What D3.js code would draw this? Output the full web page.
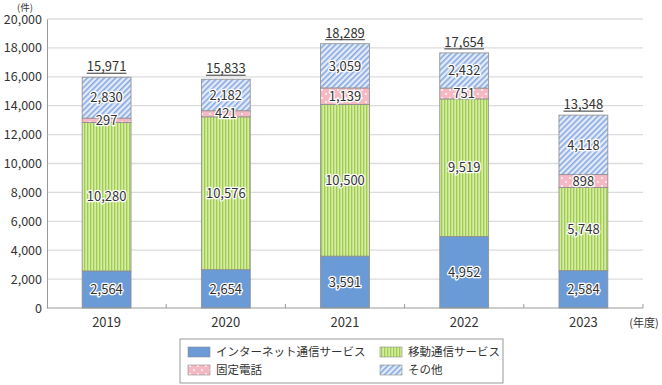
<!DOCTYPE html>
<html>
<head>
<meta charset="utf-8">
<script src="https://cdn.jsdelivr.net/npm/d3@7"></script>
<style>
  body { margin: 0; background: #fff; }
  text { font-family: "Noto Sans CJK JP", "Noto Sans", sans-serif; fill: #333; }
</style>
</head>
<body>
<div id="holder"></div>
<script>
const w = 662;
const h = 385;

// DATA
const years = ["2019", "2020", "2021", "2022", "2023"];
const internet = [2564, 2654, 3591, 4952, 2584];
const mobile = [10280, 10576, 10500, 9519, 5748];
const fixed = [297, 421, 1139, 751, 898];
const other = [2830, 2182, 3059, 2432, 4118];
const seriesNames = ["インターネット通信サービス", "移動通信サービス", "固定電話", "その他"];
const yTicks = [0, 2000, 4000, 6000, 8000, 10000, 12000, 14000, 16000, 18000, 20000];

const plotLeft = 47, plotRight = 643, plotTop = 19, plotBottom = 308;

const svg = d3.select("#holder")
    .append("svg")
    .attr("width", w)
    .attr("height", h)

// PATTERNS
const defs = svg.append("defs")

let pMobile = defs.append("pattern")
    .attr("id", "pMobile").attr("patternUnits", "userSpaceOnUse")
    .attr("width", 3).attr("height", 3)
pMobile.append("rect").attr("width", 3).attr("height", 3).attr("fill", "#d6eba3")
pMobile.append("rect").attr("width", 1.3).attr("height", 3).attr("fill", "#9fcd52")

let pFixed = defs.append("pattern")
    .attr("id", "pFixed").attr("patternUnits", "userSpaceOnUse")
    .attr("width", 8).attr("height", 8)
pFixed.append("rect").attr("width", 8).attr("height", 8).attr("fill", "#f6b9c3")
pFixed.append("circle").attr("cx", 2).attr("cy", 2).attr("r", 0.9).attr("fill", "#fff")
pFixed.append("circle").attr("cx", 6).attr("cy", 6).attr("r", 0.9).attr("fill", "#fff")

let pOther = defs.append("pattern")
    .attr("id", "pOther").attr("patternUnits", "userSpaceOnUse")
    .attr("width", 4).attr("height", 4)
    .attr("patternTransform", "rotate(45)")
pOther.append("rect").attr("width", 4).attr("height", 4).attr("fill", "#e3ebf8")
pOther.append("rect").attr("width", 1.6).attr("height", 4).attr("fill", "#86a8e2")

const fills = ["#6b9bd6", "url(#pMobile)", "url(#pFixed)", "url(#pOther)"];

// SCALES
let xScale = d3.scaleBand()
    .domain(years)
    .range([plotLeft, plotRight])
    .paddingInner(0.59)
    .paddingOuter(0.295)

let xBand = d3.scaleBand().domain(years).range([plotLeft, plotRight])

let yScale = d3.scaleLinear()
    .domain([0, 20000])
    .range([plotBottom, plotTop])

// GRID
svg.append("g")
    .selectAll("line")
    .data(yTicks.slice(1))
    .enter()
    .append("line")
    .attr("x1", plotLeft).attr("x2", plotRight)
    .attr("y1", d => yScale(d)).attr("y2", d => yScale(d))
    .attr("stroke", "#dcdcdc").attr("stroke-width", 1.3)

// Y AXIS
let yAxis = d3.axisLeft(yScale)
    .tickValues(yTicks)
    .tickFormat(d3.format(","))
    .tickSize(0)
    .tickPadding(5)

let gy = svg.append("g")
    .attr("transform", "translate(" + plotLeft + ",0)")
    .call(yAxis)
gy.select(".domain").attr("stroke", "#999")
gy.selectAll("text").style("font-size", "12.5px").attr("fill", "#333")
    .style("font-family", "'Noto Sans CJK JP', sans-serif")

svg.append("text")
    .attr("x", 25).attr("y", 11)
    .attr("text-anchor", "middle")
    .style("font-size", "9.5px")
    .text("(件)")

// STACK
const rows = years.map((y, i) => ({ year: y, v: [internet[i], mobile[i], fixed[i], other[i]] }))

rows.forEach(r => {
    let base = 0
    r.v.forEach((val, k) => {
        svg.append("rect")
            .attr("x", xScale(r.year))
            .attr("y", yScale(base + val))
            .attr("width", xScale.bandwidth())
            .attr("height", yScale(base) - yScale(base + val))
            .attr("fill", fills[k])
            .attr("stroke", "#8c8c8c")
            .attr("stroke-width", 0.8)
        base += val
    })
})

// SEGMENT LABELS
rows.forEach(r => {
    let base = 0
    r.v.forEach(val => {
        svg.append("text")
            .attr("x", xScale(r.year) + xScale.bandwidth() / 2)
            .attr("y", yScale(base + val / 2))
            .attr("dy", "0.36em")
            .attr("text-anchor", "middle")
            .style("font-size", "13px")
            .style("paint-order", "stroke")
            .attr("stroke", "#fff")
            .attr("stroke-width", 2.5)
            .attr("stroke-linejoin", "round")
            .attr("fill", "#333")
            .text(d3.format(",")(val))
        base += val
    })
})

// TOTALS
rows.forEach(r => {
    let total = d3.sum(r.v)
    let cx = xScale(r.year) + xScale.bandwidth() / 2
    let t = svg.append("text")
        .attr("x", cx)
        .attr("y", yScale(total) - 6)
        .attr("text-anchor", "middle")
        .style("font-size", "13px")
        .text(d3.format(",")(total))
    let bb = t.node().getBBox()
    svg.append("line")
        .attr("x1", bb.x).attr("x2", bb.x + bb.width)
        .attr("y1", yScale(total) - 4).attr("y2", yScale(total) - 4)
        .attr("stroke", "#333").attr("stroke-width", 1)
})

// X AXIS
svg.append("line")
    .attr("x1", plotLeft).attr("x2", plotRight)
    .attr("y1", plotBottom).attr("y2", plotBottom)
    .attr("stroke", "#999")

svg.selectAll(".xtick")
    .data(years)
    .enter()
    .append("line")
    .attr("x1", d => xBand(d) + xBand.bandwidth())
    .attr("x2", d => xBand(d) + xBand.bandwidth())
    .attr("y1", plotBottom).attr("y2", plotBottom - 4)
    .attr("stroke", "#999")

svg.selectAll(".xlab")
    .data(years)
    .enter()
    .append("text")
    .attr("x", d => xBand(d) + xBand.bandwidth() / 2)
    .attr("y", plotBottom + 19)
    .attr("text-anchor", "middle")
    .style("font-size", "13px")
    .text(d => d)

svg.append("text")
    .attr("x", 644).attr("y", plotBottom + 19)
    .attr("text-anchor", "middle")
    .style("font-size", "11px")
    .text("(年度)")

// LEGEND
svg.append("rect")
    .attr("x", 180).attr("y", 339)
    .attr("width", 323).attr("height", 44)
    .attr("fill", "#fff").attr("stroke", "#999")

const legendPos = [[188, 347], [380, 347], [188, 365], [380, 365]]
seriesNames.forEach((name, k) => {
    svg.append("rect")
        .attr("x", legendPos[k][0]).attr("y", legendPos[k][1])
        .attr("width", 22).attr("height", 10)
        .attr("fill", fills[k])
        .attr("stroke", "#8c8c8c").attr("stroke-width", 0.6)
    svg.append("text")
        .attr("x", legendPos[k][0] + 28).attr("y", legendPos[k][1] + 5)
        .attr("dy", "0.36em")
        .style("font-size", "11.5px")
        .text(name)
})
</script>
</body>
</html>
